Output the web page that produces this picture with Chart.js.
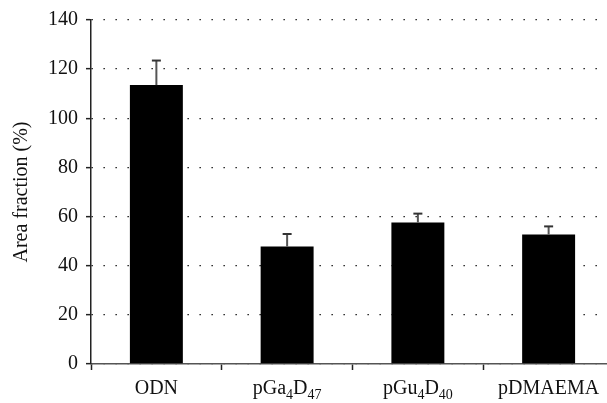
<!DOCTYPE html>
<html>
<head>
<meta charset="utf-8">
<script src="https://cdn.jsdelivr.net/npm/chart.js@4.4.0/dist/chart.umd.min.js"></script>
<style>
  html, body { margin: 0; padding: 0; background: #fff; overflow: hidden; }
  #wrap { width: 616px; height: 403px; }
</style>
</head>
<body>
<div id="wrap"><canvas id="areaChart"></canvas></div>
<script>
// Dados
const categorias = ['ODN', 'pGa_{4}D_{47}', 'pGu_{4}D_{40}', 'pDMAEMA'];
const valores = [113.5, 47.8, 57.6, 52.7];
const erros = [10.0, 5.1, 3.6, 3.3];
const ticksY = [0, 20, 40, 60, 80, 100, 120, 140];

const fonte = "'Liberation Serif', 'Times New Roman', serif";

// Quebra "pGa_{4}D_{47}" em partes normais / subscritas
function partesRotulo(txt) {
  const partes = [];
  const re = /_\{([^}]*)\}|([^_]+)/g;
  let m;
  while ((m = re.exec(txt)) !== null) {
    if (m[1] !== undefined) partes.push({ t: m[1], sub: true });
    else partes.push({ t: m[2], sub: false });
  }
  return partes;
}

// Barras de erro (só para cima)
const errorBars = {
  id: 'errorBars',
  afterDatasetsDraw(chart) {
    const ctx = chart.ctx;
    const meta = chart.getDatasetMeta(0);
    const y = chart.scales.y;
    ctx.save();
    meta.data.forEach((bar, i) => {
      const topo = y.getPixelForValue(valores[i] + erros[i]);
      ctx.strokeStyle = '#555';
      ctx.lineWidth = 2;
      ctx.beginPath();
      ctx.moveTo(bar.x, bar.y);
      ctx.lineTo(bar.x, topo);
      ctx.stroke();
      ctx.strokeStyle = '#333';
      ctx.beginPath();
      ctx.moveTo(bar.x - 4.5, topo);
      ctx.lineTo(bar.x + 4.5, topo);
      ctx.stroke();
    });
    ctx.restore();
  }
};

// Rótulos do eixo X com subscrito
const rotulosX = {
  id: 'rotulosX',
  afterDraw(chart) {
    const ctx = chart.ctx;
    const x = chart.scales.x;
    const base = chart.chartArea.bottom + 30;
    ctx.save();
    ctx.fillStyle = '#111';
    ctx.textBaseline = 'alphabetic';
    categorias.forEach((cat, i) => {
      const partes = partesRotulo(cat);
      let largura = 0;
      partes.forEach(p => {
        ctx.font = (p.sub ? '14px ' : '20px ') + fonte;
        p.w = ctx.measureText(p.t).width;
        largura += p.w;
      });
      let cx = x.getPixelForValue(i) - largura / 2;
      partes.forEach(p => {
        ctx.font = (p.sub ? '14px ' : '20px ') + fonte;
        ctx.fillText(p.t, cx, base + (p.sub ? 5 : 0));
        cx += p.w;
      });
    });
    ctx.restore();
  }
};

new Chart(document.getElementById('areaChart'), {
  type: 'bar',
  data: {
    labels: categorias,
    datasets: [{
      data: valores,
      backgroundColor: '#000',
      borderWidth: 0,
      barPercentage: 0.405,
      categoryPercentage: 1
    }]
  },
  options: {
    responsive: true,
    maintainAspectRatio: false,
    animation: false,
    events: [],
    layout: { padding: { top: 16, right: 2, left: 10, bottom: 0 } },
    plugins: {
      legend: { display: false },
      tooltip: { enabled: false }
    },
    scales: {
      x: {
        grid: {
          offset: true,
          drawOnChartArea: false,
          drawTicks: true,
          tickLength: 6,
          tickColor: '#222',
          tickWidth: 1.5
        },
        border: { color: '#555', width: 1.5 },
        ticks: {
          color: 'transparent',
          font: { family: fonte, size: 20 },
          padding: 4.5,
          maxRotation: 0,
          minRotation: 0,
          autoSkip: false,
          callback: () => 'ODN'
        }
      },
      y: {
        min: 0,
        max: 140,
        afterBuildTicks: s => { s.ticks = ticksY.map(v => ({ value: v })); },
        grid: {
          color: '#000',
          lineWidth: 1.3,
          drawTicks: true,
          tickLength: 5,
          tickColor: '#222',
          tickWidth: 1.5
        },
        border: { color: '#222', width: 1.5, dash: [1.3, 10.7] },
        ticks: {
          color: '#111',
          font: { family: fonte, size: 20 },
          padding: 8
        },
        title: {
          display: true,
          text: 'Area fraction (%)',
          color: '#111',
          font: { family: fonte, size: 20 },
          padding: { top: 0, bottom: 6 }
        }
      }
    }
  },
  plugins: [errorBars, rotulosX]
});
</script>
</body>
</html>
